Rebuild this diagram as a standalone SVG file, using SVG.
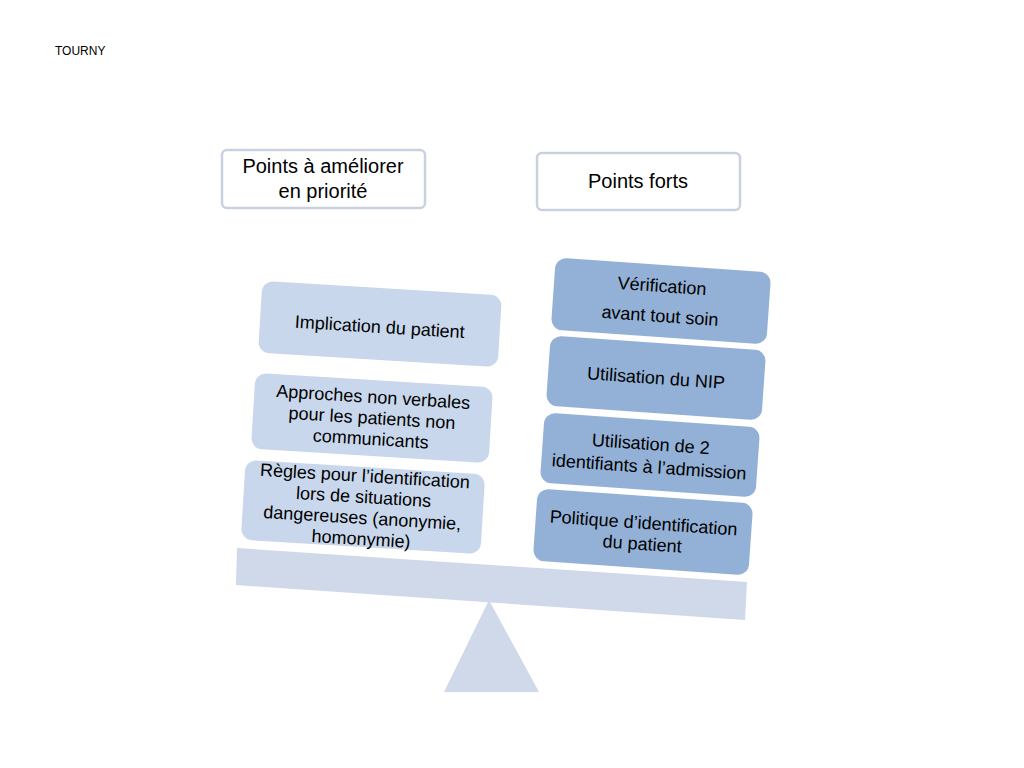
<svg xmlns="http://www.w3.org/2000/svg" width="1024" height="768" viewBox="0 0 1024 768">
<style>
text{font-family:"Liberation Sans",Arial,sans-serif;fill:#000;text-anchor:middle}
.hdr{fill:#fff;stroke:#c9d1e1;stroke-width:2.5}
.lb{fill:#c8d7eb}
.rb{fill:#93b1d6}
.bal{fill:#d0d9e9}
.t18{font-size:18px}
.t20{font-size:20px}
</style>
<rect width="1024" height="768" fill="#fff"/>
<text x="55" y="55" style="font-size:12px;text-anchor:start">TOURNY</text>

<g id="balance">
<polygon class="bal" points="237,548 747,582 745,620 236,585"/>
<polygon class="bal" points="489,600 444,692 539,692"/>
</g>

<g id="hdr-left">
<rect class="hdr" x="222" y="150" width="203" height="58" rx="5"/>
<text class="t20" x="323" y="173">Points à améliorer</text>
<text class="t20" x="323" y="198">en priorité</text>
</g>
<g id="hdr-right">
<rect class="hdr" x="537" y="153" width="203" height="57" rx="5"/>
<text class="t20" x="638" y="188">Points forts</text>
</g>

<g id="left-1" transform="translate(380,324) rotate(3.5)">
<rect class="lb" x="-120" y="-36" width="240" height="72" rx="11"/>
<text class="t18" x="0" y="9">Implication du patient</text>
</g>
<g id="left-2" transform="translate(372,418) rotate(3.5)">
<rect class="lb" x="-119" y="-38" width="238" height="76" rx="11"/>
<text class="t18" x="0" y="-15">Approches non verbales</text>
<text class="t18" x="0" y="6">pour les patients non</text>
<text class="t18" x="0" y="27">communicants</text>
</g>
<g id="left-3" transform="translate(363,507) rotate(3.5)">
<rect class="lb" x="-120" y="-40" width="240" height="80" rx="11"/>
<text class="t18" x="0" y="-25">Règles pour l’identification</text>
<text class="t18" x="0" y="-4">lors de situations</text>
<text class="t18" x="0" y="17">dangereuses (anonymie,</text>
<text class="t18" x="0" y="38">homonymie)</text>
</g>

<g id="right-1" transform="translate(661,301) rotate(4)">
<rect class="rb" x="-108" y="-36" width="216" height="72" rx="11"/>
<text class="t18" x="0" y="-9">Vérification</text>
<text class="t18" x="0" y="21">avant tout soin</text>
</g>
<g id="right-2" transform="translate(656,378) rotate(4)">
<rect class="rb" x="-108" y="-35" width="216" height="70" rx="11"/>
<text class="t18" x="0" y="6">Utilisation du NIP</text>
</g>
<g id="right-3" transform="translate(650,455) rotate(4)">
<rect class="rb" x="-108" y="-35" width="216" height="70" rx="11"/>
<text class="t18" x="0" y="-5">Utilisation de 2</text>
<text class="t18" x="0" y="18">identifiants à l’admission</text>
</g>
<g id="right-4" transform="translate(643,532) rotate(4)">
<rect class="rb" x="-108" y="-36" width="216" height="72" rx="11"/>
<text class="t18" x="0" y="-3">Politique d’identification</text>
<text class="t18" x="0" y="18">du patient</text>
</g>
<g id="connectors"></g>
</svg>
